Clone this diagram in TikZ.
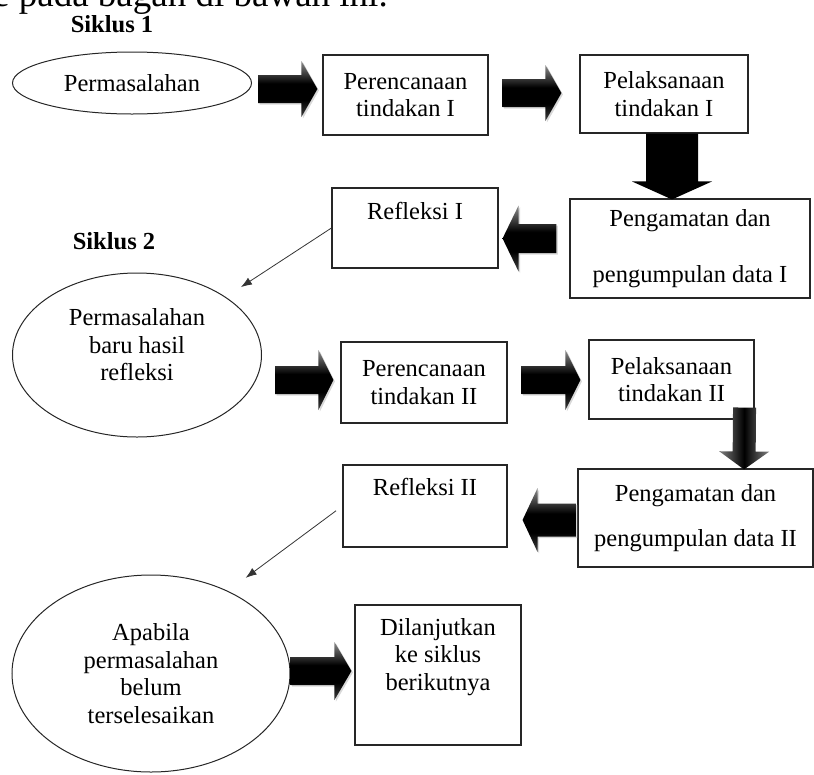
\documentclass[tikz,border=0pt]{standalone}
\usepackage{fontspec}
\setmainfont{Liberation Serif}
\usetikzlibrary{calc,shapes.geometric,arrows.meta,shadows}
\pgfdeclareverticalshading{barshade}{100bp}{color(0bp)=(black!75); color(25bp)=(black!75); color(40bp)=(black); color(55bp)=(black); color(75bp)=(black!45); color(100bp)=(black!45)}

\begin{document}
\begin{tikzpicture}[x=1pt,y=-1pt,
    txt/.style={font=\fontsize{24.5}{27.5}\selectfont, align=center, inner sep=0pt},
    box/.style={txt, draw=black!85, line width=1.1pt},
    oval/.style={txt, ellipse, draw=black!85, line width=1pt},
    title/.style={font=\fontsize{24.5}{27.5}\selectfont\bfseries, inner sep=0pt},
    rarrow/.style={shade, shading=barshade, drop shadow={shadow xshift=1.5pt, shadow yshift=-1.5pt, opacity=0.3}},
    darrow/.style={fill=black},
    greyarrow/.style={left color=black!50, right color=black!50, middle color=black},
    thinarrow/.style={draw=black!80, line width=0.8pt, -{Latex[length=11pt,width=8pt]}}]
    % Block arrow: style, tail, tip, shaft half width, head half width, head length
    \def\blockarrow#1#2#3#4#5#6{%
      \coordinate (ba-t) at #2;
      \coordinate (ba-p) at #3;
      \coordinate (ba-n) at ($(ba-p)!#6!(ba-t)$);
      \path[#1] ($(ba-t)!#4!90:(ba-p)$) -- ($(ba-n)!#4!90:(ba-p)$)
        -- ($(ba-n)!#5!90:(ba-p)$) -- (ba-p)
        -- ($(ba-n)!#5!-90:(ba-p)$) -- ($(ba-n)!#4!-90:(ba-p)$)
        -- ($(ba-t)!#4!-90:(ba-p)$) -- cycle;}

    \useasboundingbox (0,0) rectangle (814,774);

    % Text of the page above the chart (cut off)
    \node[anchor=base west, inner sep=0pt, font=\fontsize{37}{40}\selectfont] (intro) at (-7,6) {e pada bagan di bawah ini.};

    % ---- Siklus 1 ----
    \node[title] (siklus1) at (112,24) {Siklus 1};
    \node[oval, minimum width=239pt, minimum height=62pt] (perm1) at (132,83) {Permasalahan};
    \node[box, minimum width=165pt, minimum height=80pt] (ren1) at (405.5,95) {Perencanaan\\tindakan I};
    \node[box, minimum width=168pt, minimum height=78pt] (lak1) at (664,94) {Pelaksanaan\\tindakan I};
    \node[box, minimum width=240pt, minimum height=99pt] (peng1) at (690,248.5) {Pengamatan dan\\[28pt]pengumpulan data I};
    \node[box, minimum width=166pt, minimum height=80pt] (ref1) at (415,228) {};
    \node[txt] (ref1-txt) at ($(ref1.north)+(0,24)$) {Refleksi I};

    \blockarrow{rarrow}{($(perm1.east)+(6,6)$)}{($(ren1.west)+(-5,-6)$)}{14pt}{28pt}{16pt}
    \blockarrow{rarrow}{($(ren1.east)+(14,-2)$)}{($(lak1.west)+(-18,-1)$)}{14pt}{28pt}{16pt}
    \blockarrow{darrow}{($(lak1.south)+(8,0)$)}{($(peng1.north)+(-18,1)$)}{26pt}{40pt}{18pt}
    \blockarrow{rarrow}{($(peng1.west)+(-13,-10)$)}{($(ref1.east)+(4,10.5)$)}{14.5pt}{33pt}{16pt}

    % ---- Siklus 2 ----
    \node[title] (siklus2) at (114,241) {Siklus 2};
    \node[oval, minimum width=249pt, minimum height=164pt] (perm2) at (137,355) {};
    \node[txt] (perm2-txt) at ($(perm2)+(0,-10)$) {Permasalahan\\baru hasil\\refleksi};
    \node[box, minimum width=166pt, minimum height=81pt] (ren2) at (424,382.5) {Perencanaan\\tindakan II};
    \node[box, minimum width=165pt, minimum height=79pt] (lak2) at (671.5,379.5) {Pelaksanaan\\tindakan II};
    \node[box, minimum width=235pt, minimum height=98pt] (peng2) at (695.5,518) {Pengamatan dan\\[17pt]pengumpulan data II};
    \node[box, minimum width=164pt, minimum height=82pt] (ref2) at (425,506) {};
    \node[txt] (ref2-txt) at ($(ref2.north)+(0,23)$) {Refleksi II};

    \draw[thinarrow, shorten >=18pt] (ref1.west) -- (perm2);
    \blockarrow{rarrow}{($(perm2.east)+(13,25)$)}{($(ren2.west)+(-7,-2.5)$)}{14pt}{30pt}{15pt}
    \blockarrow{rarrow}{($(ren2.east)+(14,-2.5)$)}{($(lak2.west)+(-8,0.5)$)}{14pt}{30pt}{15pt}
    \blockarrow{greyarrow}{($(lak2.south east)+(-10,-12)$)}{($(peng2.north)+(48.5,1)$)}{11.5pt}{25pt}{18pt}
    \blockarrow{rarrow}{($(peng2.west)+(-1,2)$)}{($(ref2.east)+(15,14)$)}{16.5pt}{32pt}{15pt}

    % ---- Lanjutan ----
    \node[oval, minimum width=278pt, minimum height=197pt] (perm3) at (151,673.5) {Apabila\\permasalahan\\belum\\terselesaikan};
    \node[box, minimum width=166pt, minimum height=140pt] (dil) at (438,675) {};
    \node[txt] (dil-txt) at ($(dil)+(0,-18)$) {Dilanjutkan\\ke siklus\\berikutnya};

    \draw[thinarrow, shorten <=8pt, shorten >=22pt] (ref2.west) -- (perm3.47);
    \blockarrow{rarrow}{($(perm3.east)+(0,-2.5)$)}{($(dil.west)+(-3,-4)$)}{14pt}{29pt}{17pt}
\end{tikzpicture}
\end{document}
